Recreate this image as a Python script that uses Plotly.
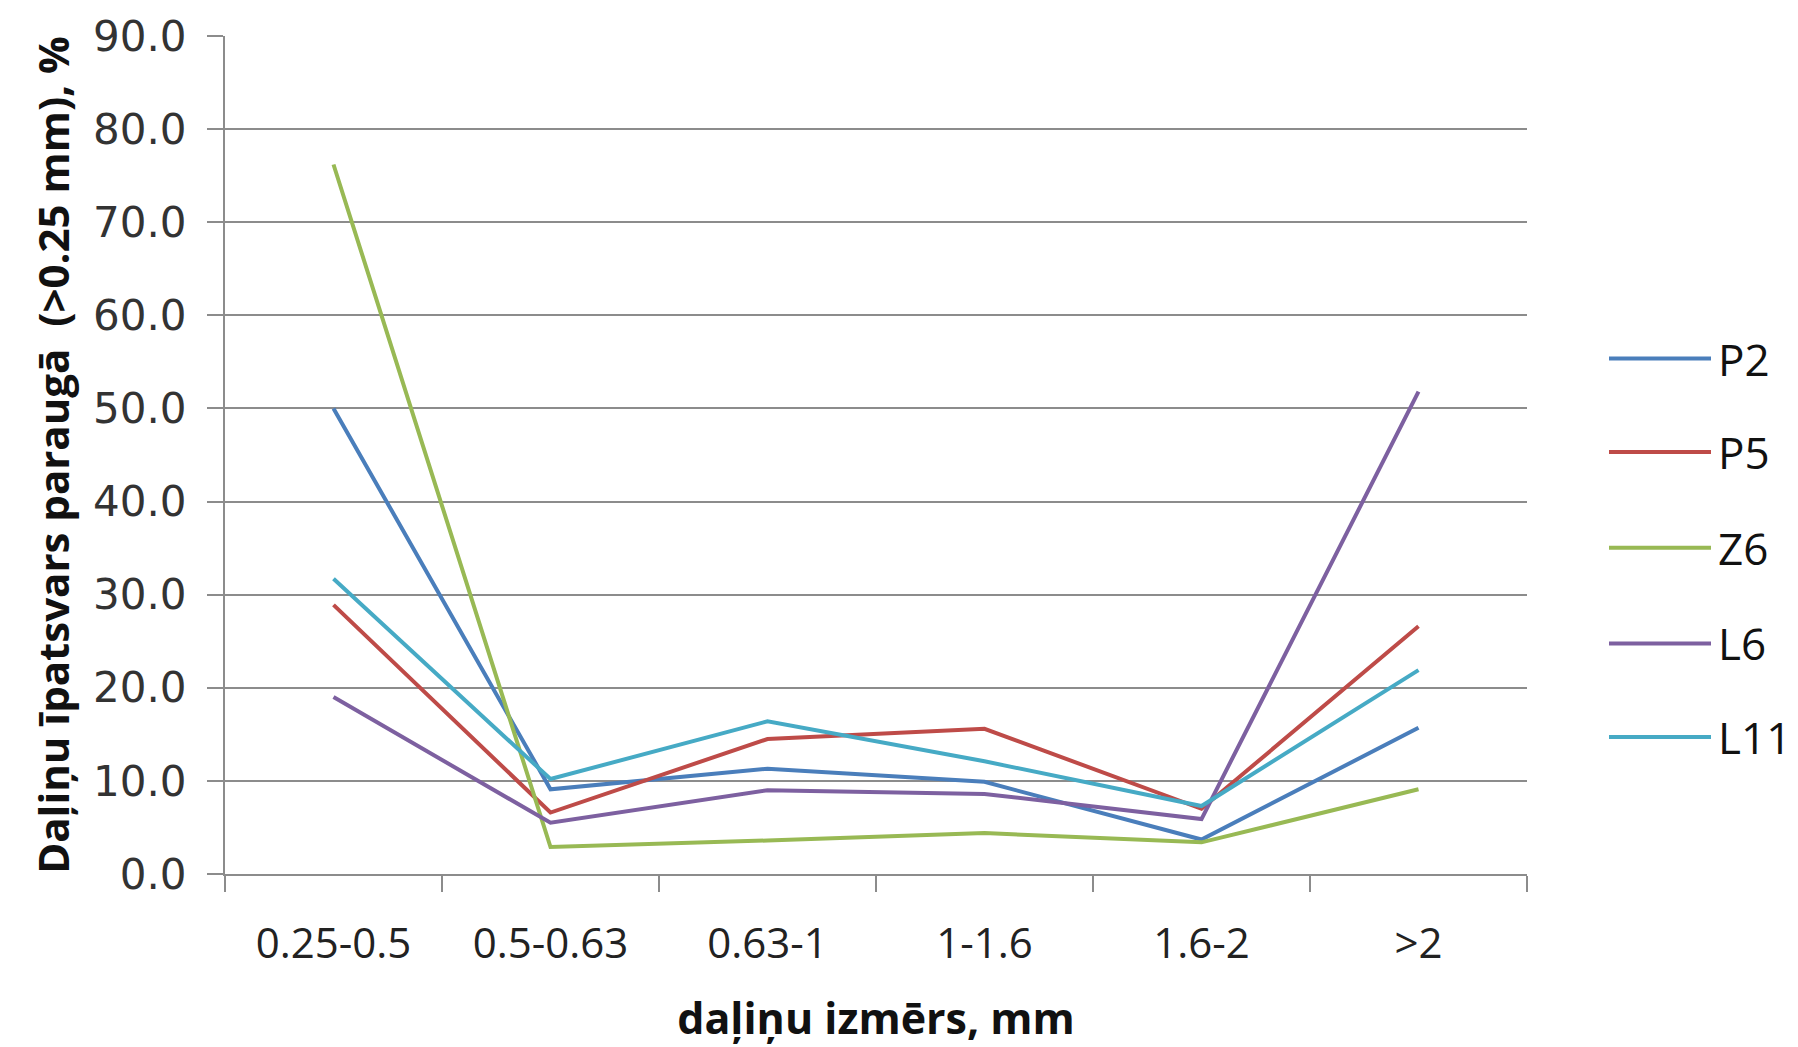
import plotly.graph_objects as go

categories = ["0.25-0.5", "0.5-0.63", "0.63-1", "1-1.6", "1.6-2", ">2"]
series_names = ["P2", "P5", "Z6", "L6", "L11"]
P2 = [50.0, 9.1, 11.3, 9.9, 3.7, 15.7]
P5 = [28.9, 6.6, 14.5, 15.6, 7.0, 26.6]
Z6 = [76.2, 2.9, 3.6, 4.4, 3.4, 9.1]
L6 = [19.0, 5.5, 9.0, 8.6, 5.9, 51.8]
L11 = [31.7, 10.2, 16.4, 12.1, 7.3, 21.9]
series_values = [P2, P5, Z6, L6, L11]
colors = ["#4A7EBB", "#BE4B48", "#98B954", "#7D60A0", "#46AAC5"]
y_ticks = [0, 10, 20, 30, 40, 50, 60, 70, 80, 90]

fig = go.Figure()
for name, vals, col in zip(series_names, series_values, colors):
    fig.add_trace(go.Scatter(x=categories, y=vals, name=name, mode="lines",
                             line=dict(color=col, width=4), showlegend=False))

# custom legend
W, H = 1798, 1047
L, R, T, B = 225, 271, 31, 173
pw, ph = W - L - R, H - T - B
leg_y = [355.5, 449.5, 545.8, 642.1, 736.2]
for name, col, py in zip(series_names, colors, leg_y):
    yp = (H - B - py) / ph
    fig.add_shape(type="line", xref="paper", yref="paper",
                  x0=(1609 - L) / pw, x1=(1711 - L) / pw, y0=yp, y1=yp,
                  line=dict(color=col, width=4))
    fig.add_annotation(xref="paper", yref="paper", x=(1716 - L) / pw, y=yp,
                       text=name, showarrow=False, xanchor="left", yanchor="middle",
                       font=dict(family="Open Sans", size=44, color="#111"))

fig.update_layout(
    width=W, height=H,
    margin=dict(l=L, r=R, t=T, b=B),
    plot_bgcolor="white", paper_bgcolor="white",
    xaxis=dict(
        type="category", tickson="boundaries", ticks="outside", ticklen=16,
        tickcolor="#8c8c8c", tickwidth=2, showline=True, linecolor="#8c8c8c", linewidth=2,
        showgrid=False, range=[-0.5, 5.5],
        tickfont=dict(family="Open Sans", size=42, color="#222"),
        ticklabelstandoff=32,
        title=dict(text="<b>daļiņu izmērs, mm</b>", standoff=34,
                   font=dict(family="Open Sans", size=43, color="#111")),
    ),
    yaxis=dict(
        range=[0, 90], tickvals=y_ticks, tickformat=".1f",
        ticks="outside", ticklen=16, tickcolor="#8c8c8c", tickwidth=2,
        showgrid=True, gridcolor="#8c8c8c", gridwidth=2,
        showline=True, linecolor="#8c8c8c", linewidth=2, zeroline=False,
        tickfont=dict(family="DejaVu Sans", size=42, color="#333"),
        ticklabelstandoff=12,
        title=dict(text="<b>Daļiņu īpatsvars paraugā  (>0.25 mm), %</b>", standoff=10,
                   font=dict(family="Open Sans", size=42, color="#111")),
    ),
)

fig.write_html("out.html")
